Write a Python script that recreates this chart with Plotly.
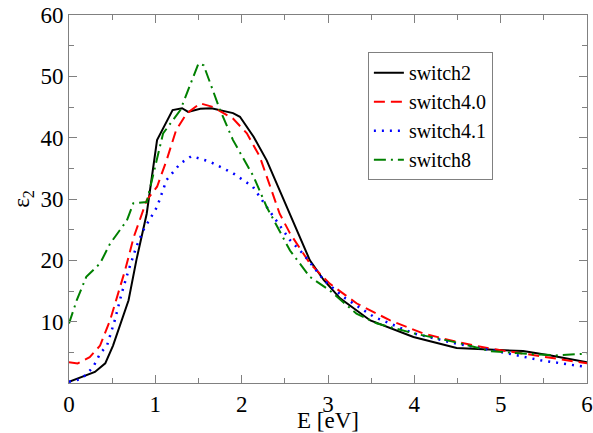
import plotly.graph_objects as go

# switch2 (black, solid)
e_s2 = [0.0, 0.3, 0.42, 0.51, 0.69, 0.78, 0.9, 1.02, 1.2, 1.31, 1.38, 1.52, 1.65, 1.9, 1.98, 2.14, 2.29, 2.52, 2.79, 2.95, 3.14, 3.49, 3.99, 4.49, 4.99, 5.26, 5.58, 6.0]
v_s2 = [0.2, 1.8, 3.2, 6.1, 13.5, 20.0, 27.6, 39.6, 44.5, 44.8, 44.2, 44.7, 44.8, 44.0, 43.4, 40.1, 36.3, 28.7, 20.0, 16.8, 13.8, 10.2, 7.5, 5.7, 5.3, 5.2, 4.5, 3.4]

# switch4.0 (red, dashed)
e_s40 = [0.0, 0.1, 0.24, 0.36, 0.475, 0.57, 0.65, 0.75, 0.82, 0.9, 1.02, 1.13, 1.24, 1.36, 1.52, 1.67, 1.9, 2.06, 2.21, 2.44, 2.56, 2.79, 3.02, 3.33, 3.72, 4.1, 4.49, 4.88, 5.26, 5.65, 6.0]
v_s40 = [3.4, 3.2, 4.2, 6.1, 10.2, 14.6, 18.4, 23.8, 26.5, 29.8, 32.0, 36.3, 41.2, 43.9, 45.6, 45.0, 43.1, 40.7, 36.9, 27.6, 24.4, 19.5, 16.2, 13.0, 10.2, 8.1, 6.7, 5.6, 4.8, 4.0, 3.2]

# switch4.1 (blue, dotted)
e_s41 = [0.0, 0.13, 0.2, 0.28, 0.36, 0.44, 0.53, 0.61, 0.69, 0.78, 0.86, 1.02, 1.13, 1.29, 1.42, 1.63, 1.9, 2.13, 2.29, 2.4, 2.56, 2.71, 2.95, 3.18, 3.53, 3.99, 4.49, 4.99, 5.46, 6.0]
v_s41 = [0.2, 0.6, 1.4, 2.6, 4.8, 6.1, 10.2, 14.6, 18.4, 22.2, 24.9, 28.7, 33.1, 35.8, 37.0, 36.1, 34.2, 32.0, 28.7, 26.5, 23.3, 21.1, 16.8, 14.0, 10.8, 8.1, 6.4, 5.1, 3.7, 2.6]

# switch8 (green, dash-dot)
e_s8 = [0.0, 0.09, 0.2, 0.36, 0.475, 0.59, 0.67, 0.745, 0.9, 1.09, 1.29, 1.5, 1.56, 1.75, 1.9, 2.14, 2.29, 2.56, 2.79, 3.02, 3.33, 3.57, 3.99, 4.49, 4.88, 5.26, 5.65, 6.0]
v_s8 = [9.7, 13.5, 17.3, 19.5, 22.7, 24.9, 26.5, 29.3, 29.5, 40.7, 44.5, 52.1, 51.8, 44.5, 39.6, 33.6, 28.7, 21.6, 17.3, 15.1, 11.3, 9.7, 8.1, 6.6, 5.2, 4.8, 4.5, 4.8]

x_ticks = [0, 1, 2, 3, 4, 5, 6]
y_ticks = [10, 20, 30, 40, 50, 60]

series = [
    ("switch2", e_s2, v_s2, "black", "solid", 2),
    ("switch4.0", e_s40, v_s40, "#ff0000", "11px,6px", 2),
    ("switch4.1", e_s41, v_s41, "#0000ff", "2px,6px", 2.5),
    ("switch8", e_s8, v_s8, "#008000", "12px,5px,2px,5px", 2),
]

FONT = "Liberation Serif"

fig = go.Figure()
for name, xs, ys, col, dash, w in series:
    fig.add_trace(go.Scatter(x=xs, y=ys, mode="lines", name=name,
                             line=dict(color=col, width=w, dash=dash)))

axis_common = dict(showline=True, linecolor="#808080", linewidth=1, mirror="allticks",
                   ticks="inside", ticklen=8, tickcolor="#808080", tickwidth=1,
                   showgrid=False, zeroline=False, automargin=False,
                   tickfont=dict(family=FONT, size=23, color="black"))

fig.update_xaxes(range=[0, 6], tickvals=x_ticks,
                 minor=dict(ticks="inside", ticklen=5, dtick=0.5, tickcolor="#808080"),
                 title=dict(text="E [eV]", font=dict(family=FONT, size=23, color="black"), standoff=7),
                 **axis_common)
fig.update_yaxes(range=[0, 60], tickvals=y_ticks,
                 minor=dict(ticks="inside", ticklen=5, dtick=5, tickcolor="#808080"),
                 title=dict(text="ε<sub>2</sub>", font=dict(family=FONT, size=23, color="black"), standoff=4),
                 **axis_common)

fig.update_layout(
    width=593, height=433,
    margin=dict(l=69, r=6, t=15, b=50),
    plot_bgcolor="white", paper_bgcolor="white",
    font=dict(family=FONT, size=23, color="black"),
    legend=dict(x=0.577, y=0.899, xanchor="left", yanchor="top",
                bordercolor="#808080", borderwidth=1, bgcolor="white",
                itemwidth=30, tracegroupgap=0,
                font=dict(family=FONT, size=20)),
)

fig.write_html("out.html", config={"displayModeBar": False},
               post_script="document.body.style.margin='0';")
